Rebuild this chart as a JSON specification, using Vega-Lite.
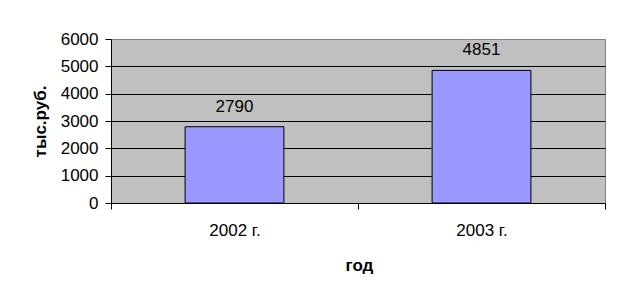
{
  "$schema": "https://vega.github.io/schema/vega-lite/v6.json",
  "autosize": "none",
  "width": 494,
  "height": 164,
  "padding": {"left": 111, "top": 39, "right": 21, "bottom": 105},
  "background": "white",
  "config": {
    "view": {"fill": "#C0C0C0", "stroke": "#808080", "strokeWidth": 1},
    "font": "Liberation Sans"
  },
  "data": {"values": [
    {"year": "2002 г.", "value": 2790},
    {"year": "2003 г.", "value": 4851}
  ]},
  "encoding": {
    "x": {
      "field": "year", "type": "nominal",
      "scale": {"paddingInner": 0, "paddingOuter": 0},
      "axis": {
        "title": "год", "labelAngle": 0, "tickBand": "extent",
        "domainColor": "black", "tickColor": "black", "tickSize": 6,
        "labelPadding": 13, "labelFontSize": 17, "labelColor": "black",
        "titleFontSize": 17, "titleFontWeight": "bold", "titleColor": "black",
        "titleX": 248, "titleY": 67, "titleBaseline": "alphabetic", "titleAlign": "center"
      }
    },
    "y": {
      "field": "value", "type": "quantitative",
      "scale": {"domain": [0, 6000], "nice": false},
      "axis": {
        "title": "тыс.руб.", "values": [0, 1000, 2000, 3000, 4000, 5000, 6000],
        "format": "d",
        "grid": true,
        "gridColor": {"condition": {"test": "datum.value === 6000", "value": "#808080"}, "value": "black"},
        "gridOpacity": 1,
        "domainColor": "black", "tickColor": "black", "tickSize": 6,
        "labelPadding": 7, "labelFontSize": 17, "labelColor": "black",
        "titleFontSize": 17, "titleFontWeight": "bold", "titleColor": "black",
        "titleX": -71, "titleY": 82, "titleAngle": -90, "titleAlign": "center", "titleBaseline": "middle"
      }
    }
  },
  "layer": [
    {
      "mark": {"type": "bar", "width": {"band": 0.4}, "fill": "#9999FF", "stroke": "black", "strokeWidth": 1}
    },
    {
      "mark": {"type": "text", "baseline": "alphabetic", "dy": -15, "fontSize": 17, "color": "black"},
      "encoding": {"text": {"field": "value", "type": "quantitative", "format": "d"}}
    }
  ]
}
